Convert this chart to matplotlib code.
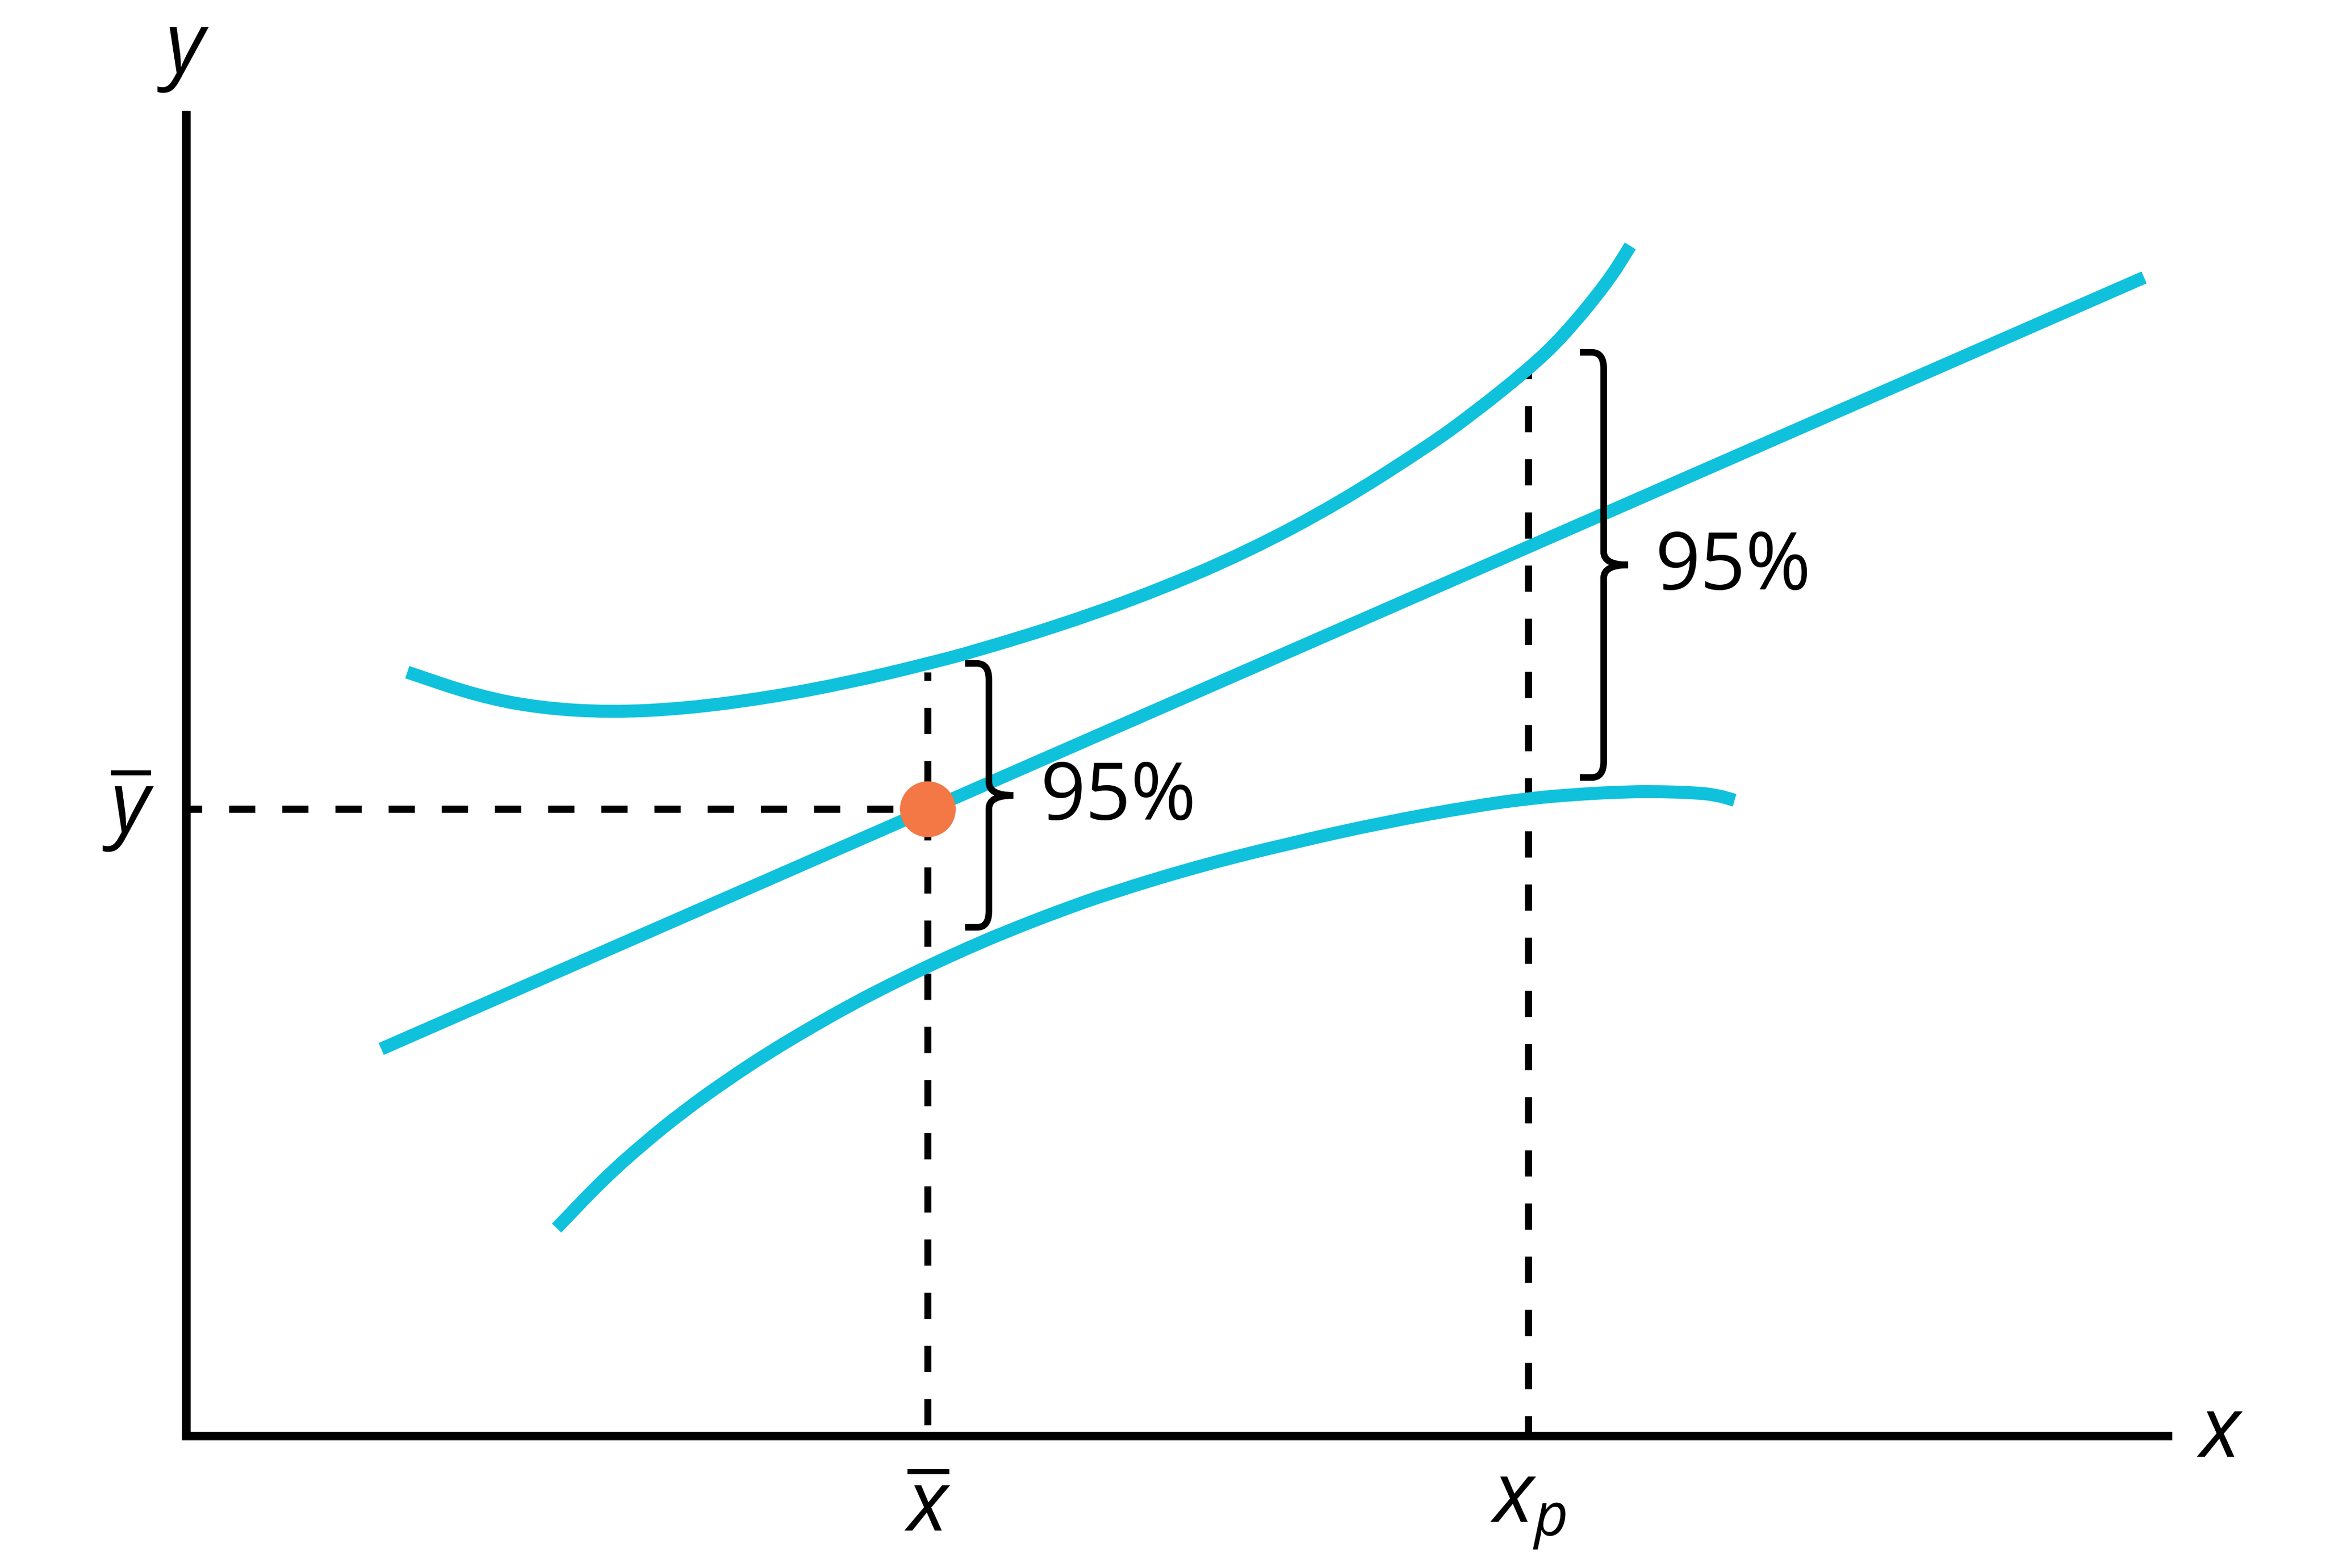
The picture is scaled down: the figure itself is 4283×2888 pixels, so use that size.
import matplotlib
matplotlib.use("Agg")
import matplotlib.pyplot as plt
from matplotlib.path import Path
from matplotlib.patches import PathPatch

# values (1 unit = 100 px of the reference)
x_bar = 13.65
y_bar = 11.55
x_p = 24.71

# fitted line
line_x = [3.59, 36.05]
line_y = [7.13, 21.34]

# upper band
upper_x = [4.07, 5.37, 6.51, 7.81, 9.19, 10.72, 12.25, 13.67, 14.57, 16.23,
           17.89, 19.54, 21.20, 22.86, 23.69, 24.69, 25.35, 26.18, 26.59]
upper_y = [14.07, 13.63, 13.41, 13.33, 13.40, 13.60, 13.89, 14.23, 14.47, 14.98,
           15.58, 16.29, 17.17, 18.23, 18.83, 19.63, 20.25, 21.26, 21.92]

# lower band
lower_x = [6.82, 7.66, 8.43, 9.19, 9.96, 10.72, 11.49, 12.25, 12.97, 13.67,
           14.37, 15.07, 16.07, 17.06, 18.72, 20.37, 22.03, 23.69, 24.69, 25.57,
           26.57, 27.17, 27.77, 28.17, 28.51]
lower_y = [3.83, 4.71, 5.40, 6.01, 6.56, 7.06, 7.52, 7.95, 8.32, 8.66,
           8.98, 9.28, 9.67, 10.02, 10.52, 10.93, 11.30, 11.60, 11.74, 11.82,
           11.87, 11.87, 11.85, 11.81, 11.71]

# where the dashed guides start (top ends, on the upper band)
guide_top = [14.07, 19.59]

# braces: (spine x, low y, high y) and their labels
brace_x = [14.78, 26.10]
brace_lo = [9.37, 12.13]
brace_hi = [14.23, 19.96]
brace_labels = ["95%", "95%"]

CYAN = "#0FC1DB"
ORANGE = "#F37845"

plt.rcParams["mathtext.fontset"] = "custom"
plt.rcParams["mathtext.it"] = "Open Sans:italic"
plt.rcParams["mathtext.rm"] = "Open Sans"
plt.rcParams["font.family"] = ["Open Sans", "DejaVu Sans"]


def smooth_curve(ax, xs, ys, **kw):
    # quadratic b-spline through the read points, drawn by matplotlib as a path
    pts = list(zip(xs, ys))
    verts = [pts[0]]
    codes = [Path.MOVETO]
    mid = ((pts[0][0] + pts[1][0]) / 2, (pts[0][1] + pts[1][1]) / 2)
    verts.append(mid)
    codes.append(Path.LINETO)
    for i in range(1, len(pts) - 1):
        nxt = ((pts[i][0] + pts[i + 1][0]) / 2, (pts[i][1] + pts[i + 1][1]) / 2)
        verts += [pts[i], nxt]
        codes += [Path.CURVE3, Path.CURVE3]
    verts.append(pts[-1])
    codes.append(Path.LINETO)
    ax.add_patch(PathPatch(Path(verts, codes), fill=False, **kw))


def brace(ax, xs, lo, hi, hook=0.44, tip=0.45, r=0.30, rt=0.24):
    mid = (lo + hi) / 2
    verts = [(xs - hook, hi), (xs - 0.22, hi), (xs, hi), (xs, hi - r),
             (xs, mid + rt), (xs, mid), (xs + tip, mid),
             (xs, mid), (xs, mid - rt),
             (xs, lo + r), (xs, lo), (xs - 0.22, lo), (xs - hook, lo)]
    codes = [Path.MOVETO, Path.LINETO, Path.CURVE3, Path.CURVE3,
             Path.LINETO, Path.CURVE3, Path.CURVE3,
             Path.CURVE3, Path.CURVE3,
             Path.LINETO, Path.CURVE3, Path.CURVE3, Path.LINETO]
    ax.add_patch(PathPatch(Path(verts, codes), fill=False, lw=8.8,
                           edgecolor="black", capstyle="butt", zorder=4))
    return xs + tip, mid


fig = plt.figure(figsize=(42.83, 28.88), dpi=100)
ax = fig.add_axes([0.08008, 0.08414, 0.85197, 0.84245])
ax.set_xlim(0, 36.49)
ax.set_ylim(0, 24.33)
for side in ["top", "right"]:
    ax.spines[side].set_visible(False)
for side in ["left", "bottom"]:
    ax.spines[side].set_linewidth(11.5)
ax.set_xticks([])
ax.set_yticks([])

# dashed guides
dash_lw = 9.4
ax.plot([0, x_bar], [y_bar, y_bar], color="black", lw=dash_lw,
        linestyle=(1.5, (3.7, 3.8)), zorder=2)
ax.plot([x_bar, x_bar], [guide_top[0], 0], color="black", lw=dash_lw,
        linestyle=(2.5, (3.7, 3.8)), zorder=2)
ax.plot([x_p, x_p], [guide_top[1], 0], color="black", lw=dash_lw,
        linestyle=(2.8, (3.7, 3.8)), zorder=2)

# regression line and bands
cyan_lw = 17.2
ax.plot(line_x, line_y, color=CYAN, lw=cyan_lw, solid_capstyle="butt", zorder=3)
smooth_curve(ax, upper_x, upper_y, edgecolor=CYAN, lw=cyan_lw,
             capstyle="butt", joinstyle="round", zorder=3)
smooth_curve(ax, lower_x, lower_y, edgecolor=CYAN, lw=cyan_lw,
             capstyle="butt", joinstyle="round", zorder=3)

# mean point
ax.plot([x_bar], [y_bar], "o", color=ORANGE, markersize=74, mec="none", zorder=5)

for bx, lo, hi, lab in zip(brace_x, brace_lo, brace_hi, brace_labels):
    tx, ty = brace(ax, bx, lo, hi)
    ax.text(tx + 0.5, ty - 0.45, lab, fontsize=105, ha="left", va="baseline")

# axis labels
math_size = 112
ax.text(-0.05, 25.5, "$y$", fontsize=math_size, ha="center", va="center", clip_on=False)
ax.text(37.45, 0.03, "$x$", fontsize=math_size, ha="center", va="center", clip_on=False)
ax.text(-1.06, y_bar, r"$\overline{y}$", fontsize=math_size, ha="center", va="center",
        clip_on=False)
ax.text(x_bar, -0.56, r"$\overline{x}$", fontsize=math_size, ha="center", va="top",
        clip_on=False)
ax.text(x_p, -0.56, "$x_p$", fontsize=math_size, ha="center", va="top", clip_on=False)

fig.savefig("out.png", dpi=100, facecolor="white")
